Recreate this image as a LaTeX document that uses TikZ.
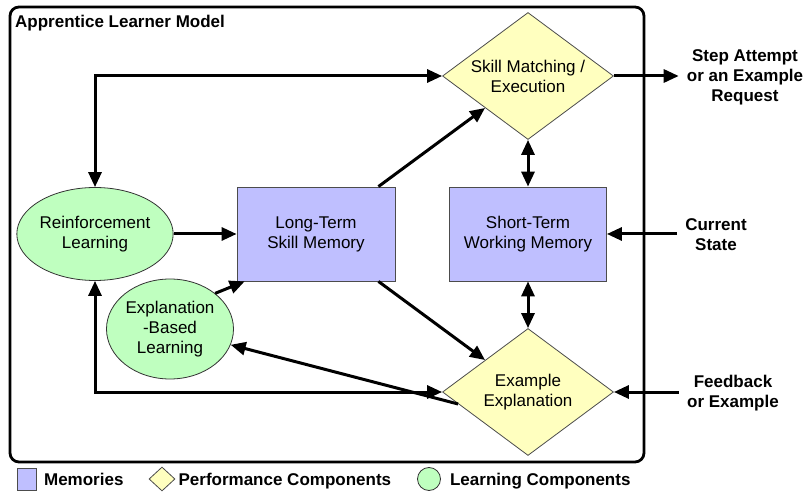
\documentclass[tikz,border=0pt]{standalone}
\usepackage{fontspec}
\setmainfont{Liberation Sans}
\usetikzlibrary{positioning,arrows.meta,shapes.geometric}
\definecolor{memblue}{HTML}{BFBFFF}
\definecolor{perfyellow}{HTML}{FFFFBF}
\definecolor{learngreen}{HTML}{BFFFBF}
\tikzset{
  every node/.style={font=\fontsize{17}{20}\selectfont, align=center},
  memory/.style={draw=black!70, line width=0.8pt, fill=memblue, minimum width=157pt, minimum height=94pt},
  perform/.style={diamond, draw=black!70, line width=0.8pt, fill=perfyellow, aspect=1.35, inner sep=0pt, minimum width=171pt, minimum height=127pt},
  learner/.style={ellipse, draw=black!80, line width=0.8pt, fill=learngreen, inner sep=0pt},
  io/.style={font=\fontsize{17}{20}\selectfont\bfseries, inner xsep=8pt},
  keytext/.style={font=\fontsize{17}{20}\selectfont\bfseries, inner sep=0pt, anchor=base west, yshift=-6pt},
  flow/.style={line width=3pt, -{Triangle[length=15pt,width=13pt]}},
  twoway/.style={line width=3pt, {Triangle[length=15pt,width=13pt]}-{Triangle[length=15pt,width=13pt]}},
}
\begin{document}
\begin{tikzpicture}[x=1pt,y=-1pt]
\useasboundingbox (0,0) rectangle (804,497);
% frame
\draw[line width=2.8pt, rounded corners=9pt] (10,7) rectangle (644,462);
\node[anchor=west, font=\fontsize{17}{20}\selectfont\bfseries, inner sep=0pt] (title) at (15,23) {Apprentice Learner Model};
% components
\node[perform] (match) at (528,76) {Skill Matching /\\Execution};
\node[perform] (expl) at (528,392) {Example\\Explanation};
\node[memory] (stm) at (528,234) {Short-Term\\Working Memory};
\node[memory, minimum width=158pt] (ltm) at (316,234) {Long-Term\\Skill Memory};
\node[learner, minimum width=156pt, minimum height=93pt] (rl) at (95,234) {Reinforcement\\Learning};
\node[learner, minimum width=127pt, minimum height=100pt] (ebl) at (170,329) {Explanation\\-Based\\Learning};
% outside
\node[io] (step) at (745,77) {Step Attempt\\or an Example\\Request};
\node[io] (state) at (716,235) {Current\\State};
\node[io] (fback) at (733,393) {Feedback\\or Example};
% connectors
\draw[twoway] (rl.north) |- (match.west);
\draw[flow] (rl.east) -- (ltm.west);
\draw[flow] ([xshift=-17pt]ltm.north east) -- (match.south west);
\draw[twoway] (match.south) -- (stm.north);
\draw[flow] (match.east) -- (match.east -| step.west);
\draw[flow] (stm.east -| state.west) -- (stm.east);
\draw[twoway] (stm.south) -- (expl.north);
\draw[flow] ([xshift=-17pt]ltm.south east) -- (expl.north west);
\draw[flow] ([xshift=16pt,yshift=-12pt]expl.west) -- (ebl);
\draw[flow] (ebl.north east) -- ([xshift=8pt]ltm.south west);
\draw[flow] (expl.east -| fback.west) -- (expl.east);
\draw[twoway] (rl.south) |- (expl.west);
% legend
\node[draw=black!70, line width=0.8pt, fill=memblue, minimum width=19pt, minimum height=22pt, inner sep=0pt] (keymem) at (27,479) {};
\node[right=7pt of keymem, keytext] (keymemtext) {Memories};
\node[diamond, draw=black!70, line width=0.8pt, fill=perfyellow, minimum width=26pt, minimum height=24pt, inner sep=0pt, aspect=1.1] (keyperf) at (162,479) {};
\node[right=3pt of keyperf, keytext] (keyperftext) {Performance Components};
\node[circle, draw=black!80, line width=0.8pt, fill=learngreen, minimum size=23pt, inner sep=0pt] (keylearn) at (429,479) {};
\node[right=9pt of keylearn, keytext] (keylearntext) {Learning Components};
\end{tikzpicture}
\end{document}
